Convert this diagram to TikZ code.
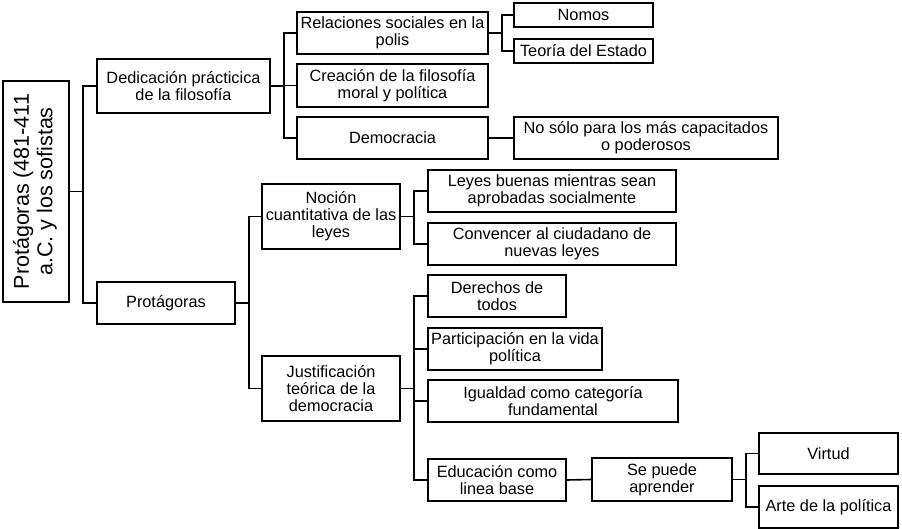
\documentclass[tikz,border=0pt]{standalone}
\usepackage{fontspec}
\setmainfont{Liberation Sans}
\begin{document}
\begin{tikzpicture}[x=1pt,y=-1pt,
  box/.style={draw, line width=1.7pt, rectangle, inner sep=0pt, align=center,
    font=\fontsize{16.3}{17}\selectfont},
  conn/.style={line width=1.6pt}]
\useasboundingbox (0,0) rectangle (902,529);
% nodes
\node[box, minimum width=66pt, minimum height=221pt] (root) at (36,191.5)
  {\rotatebox{90}{\fontsize{21.5}{23.5}\selectfont\begin{tabular}{@{}c@{}}Protágoras (481-411\\a.C. y los sofistas\end{tabular}}};
\node[box, minimum width=173pt, minimum height=54pt] (ded) at (183.5,86) {Dedicación prácticica\\de la filosofía};
\node[box, minimum width=138pt, minimum height=42pt] (prot) at (166,303) {Protágoras};
\node[box, minimum width=191pt, minimum height=42pt] (rel) at (392.5,33) {Relaciones sociales en la\\polis};
\node[box, minimum width=191pt, minimum height=43pt] (cre) at (392.5,85.5) {Creación de la filosofía\\moral y política};
\node[box, minimum width=191pt, minimum height=42pt] (dem) at (392.5,138) {Democracia};
\node[box, minimum width=139pt, minimum height=24pt] (nomos) at (583.5,15) {Nomos};
\node[box, minimum width=139pt, minimum height=24pt] (teoria) at (583.5,51) {Teoría del Estado};
\node[box, minimum width=264pt, minimum height=42pt] (nosolo) at (646,138) {No sólo para los más capacitados\\o poderosos};
\node[box, minimum width=138pt, minimum height=65pt] (nocion) at (331,216.5) {Noción\\cuantitativa de las\\leyes};
\node[box, minimum width=248pt, minimum height=42pt] (leyes) at (552,191) {Leyes buenas mientras sean\\aprobadas socialmente};
\node[box, minimum width=248pt, minimum height=42pt] (conv) at (552,244) {Convencer al ciudadano de\\nuevas leyes};
\node[box, minimum width=138pt, minimum height=65pt] (just) at (331,388.5) {Justificación\\teórica de la\\democracia};
\node[box, minimum width=138pt, minimum height=42pt] (der) at (497,296) {Derechos de\\todos};
\node[box, minimum width=174pt, minimum height=42pt] (part) at (515,349) {Participación en la vida\\política};
\node[box, minimum width=250pt, minimum height=42pt] (igu) at (553,401) {Igualdad como categoría\\fundamental};
\node[box, minimum width=138pt, minimum height=42pt] (edu) at (497,480) {Educación como\\linea base};
\node[box, minimum width=140pt, minimum height=43pt] (sep) at (662,479.5) {Se puede\\aprender};
\node[box, minimum width=139pt, minimum height=41pt] (virtud) at (828.5,453.5) {Virtud};
\node[box, minimum width=139pt, minimum height=42pt] (arte) at (828.5,507) {Arte de la política};
% connectors
\draw[conn] (root.east) -- ++(13,0) |- (ded.west);
\draw[conn] (root.east) -- ++(13,0) |- (prot.west);
\draw[conn] (ded.east) -- ++(13,0) |- (rel.west);
\draw[conn] (ded.east) -- ++(13,0) |- (cre.west);
\draw[conn] (ded.east) -- ++(13,0) |- (dem.west);
\draw[conn] (rel.east) -- ++(13,0) |- (nomos.west);
\draw[conn] (rel.east) -- ++(13,0) |- (teoria.west);
\draw[conn] (dem.east) -- (nosolo.west);
\draw[conn] (prot.east) -- ++(13,0) |- (nocion.west);
\draw[conn] (prot.east) -- ++(13,0) |- (just.west);
\draw[conn] (nocion.east) -- ++(13,0) |- (leyes.west);
\draw[conn] (nocion.east) -- ++(13,0) |- (conv.west);
\draw[conn] (just.east) -- ++(13,0) |- (der.west);
\draw[conn] (just.east) -- ++(13,0) |- (part.west);
\draw[conn] (just.east) -- ++(13,0) |- (igu.west);
\draw[conn] (just.east) -- ++(13,0) |- (edu.west);
\draw[conn] (edu.east) -- (sep.west);
\draw[conn] (sep.east) -- ++(13,0) |- (virtud.west);
\draw[conn] (sep.east) -- ++(13,0) |- (arte.west);
\end{tikzpicture}
\end{document}
